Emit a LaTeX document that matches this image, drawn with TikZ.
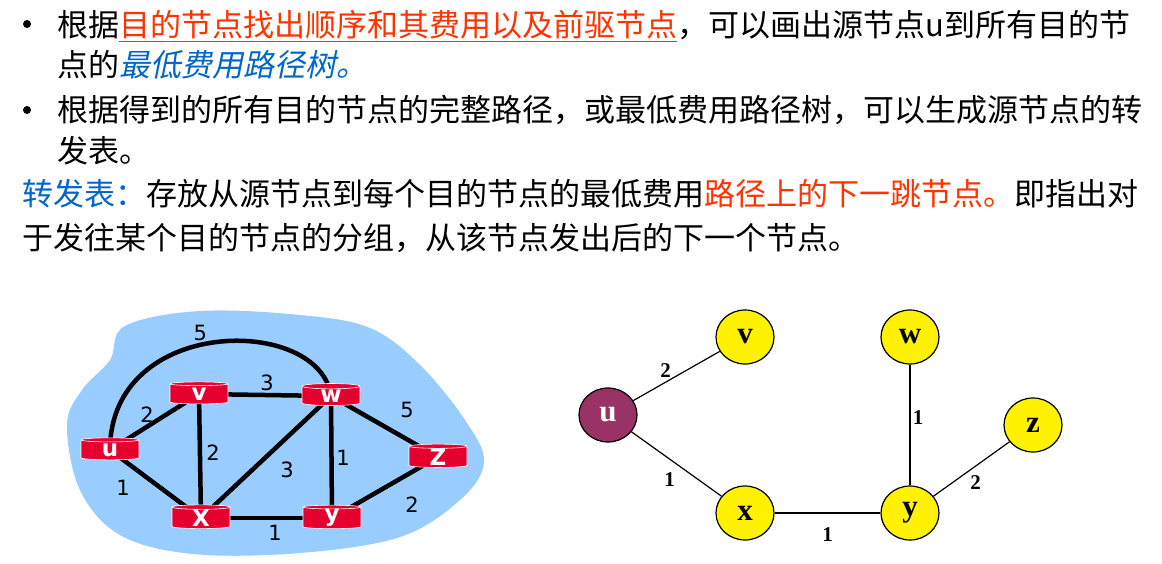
\documentclass[tikz,border=0pt]{standalone}
\usepackage{fontspec}
\usetikzlibrary{shapes.geometric,backgrounds}
\newfontfamily\cjk{Noto Sans CJK SC}
\newfontfamily\cjkit{Noto Sans CJK SC}[FakeSlant=0.2]
\newfontfamily\verd{DejaVu Sans}
\newfontfamily\tms{Liberation Serif}
\definecolor{hlred}{RGB}{255,51,0}
\definecolor{hlblue}{RGB}{0,102,204}
\definecolor{netblue}{RGB}{153,204,255}
\definecolor{routerred}{RGB}{230,0,45}
\definecolor{srcnode}{RGB}{153,51,102}
\tikzset{
  txt/.style={anchor=base west, inner sep=0pt, font=\cjk\fontsize{31}{31}\selectfont},
  router/.style={cylinder, shape border rotate=90, aspect=0.25, minimum width=58pt, minimum height=22pt,
    inner sep=0pt, cylinder uses custom fill, cylinder body fill=routerred, cylinder end fill=routerred,
    draw=white, line width=0.6pt, text=white, font=\verd\bfseries\fontsize{23}{23}\selectfont},
  link/.style={line width=4.5pt},
  nlbl/.style={font=\verd\fontsize{21}{21}\selectfont, inner sep=0pt},
  tnode/.style={ellipse, draw, line width=1.2pt, fill=yellow, minimum width=58pt, minimum height=54pt,
    inner sep=0pt, font=\tms\bfseries\fontsize{31}{31}\selectfont},
  tlbl/.style={font=\tms\bfseries\fontsize{21}{21}\selectfont, inner sep=0pt}
}
\begin{document}
\begin{tikzpicture}[x=1pt, y=-1pt]
\useasboundingbox (0,0) rectangle (1162,564);
% Text
\fill (27,24) circle (4);
\fill (27,110) circle (4);
\node[txt] (l1) at (57,37) {根据\textcolor{hlred}{\underline{目的节点找出顺序和其费用以及前驱节点}}，可以画出源节点u到所有目的节};
\node[txt] (l2) at (57,77) {点的{\cjkit\color{hlblue}最低费用路径树。}};
\node[txt] (l3) at (57,122) {根据得到的所有目的节点的完整路径，或最低费用路径树，可以生成源节点的转};
\node[txt] (l4) at (57,163) {发表。};
\node[txt] (l5) at (22,206) {\textcolor{hlblue}{转发表：}存放从源节点到每个目的节点的最低费用\textcolor{hlred}{路径上的下一跳节点。}即指出对};
\node[txt] (l6) at (22,249) {于发往某个目的节点的分组，从该节点发出后的下一个节点。};

% Network
\node[router] (u) at (110,450) {u};
\node[router] (v) at (199,394) {v};
\node[router] (w) at (331,396) {w};
\node[router] (z) at (438,457) {Z};
\node[router] (x) at (201,518) {X};
\node[router] (y) at (332,518) {y};
\begin{scope}[on background layer]
  \fill[netblue] plot[smooth cycle, tension=0.6] coordinates {(125,326) (200,311) (300,315) (370,328) (420,365)
    (465,420) (484,462) (460,500) (400,537) (300,553) (193,554) (120,535) (80,490) (67,425) (82,390) (110,360)};
  \draw[link] (u.center) .. controls (110,315) and (320,315) .. node[nlbl, xshift=-16, yshift=9] {5} (w.center);
  \draw[link] (u.center) -- node[nlbl, xshift=-7.5, yshift=7] {2} (v.center);
  \draw[link] (v.center) -- node[nlbl, xshift=2, yshift=12] {3} (w.center);
  \draw[link] (v.center) -- node[nlbl, xshift=13, yshift=3] {2} (x.center);
  \draw[link] (w.center) -- node[nlbl, xshift=22.5, yshift=16.5] {5} (z.center);
  \draw[link] (w.center) -- node[nlbl, xshift=11.5, yshift=-1] {1} (y.center);
  \draw[link] (x.center) -- node[nlbl, xshift=21, yshift=-13] {3} (w.center);
  \draw[link] (u.center) -- node[nlbl, xshift=-32.5, yshift=-4] {1} (x.center);
  \draw[link] (x.center) -- node[nlbl, xshift=8.5, yshift=-15] {1} (y.center);
  \draw[link] (y.center) -- node[nlbl, xshift=27, yshift=-17.5] {2} (z.center);
\end{scope}

% Tree
\node[tnode, fill=srcnode, text=white] (tu) at (608,415) {u};
\node[tnode] (tv) at (745,337) {v};
\node[tnode] (tw) at (910,337) {w};
\node[tnode] (tz) at (1033,425) {z};
\node[tnode] (tx) at (745,513) {x};
\node[tnode] (ty) at (910,513) {y};
\draw[line width=1.2pt] (tu) -- node[tlbl, xshift=-11, yshift=5] {2} (tv);
\draw[line width=1.2pt] (tu) -- node[tlbl, xshift=-7, yshift=-16] {1} (tx);
\draw[line width=1.2pt] (tx) -- node[tlbl, yshift=-22] {1} (ty);
\draw[line width=1.2pt] (ty) -- node[tlbl, xshift=8, yshift=7] {1} (tw);
\draw[line width=1.2pt] (ty) -- node[tlbl, xshift=4, yshift=-14] {2} (tz);
\end{tikzpicture}
\end{document}
